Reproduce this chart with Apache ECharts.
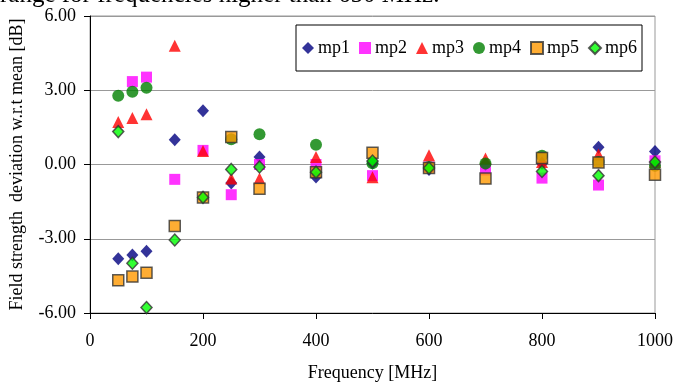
<!DOCTYPE html>
<html>
<head>
<meta charset="utf-8">
<script src="https://cdn.jsdelivr.net/npm/echarts@6/dist/echarts.min.js"></script>
<style>html,body{margin:0;padding:0;background:#fff}#c{width:676px;height:383px}</style>
</head>
<body>
<div id="c"></div>
<script>
var freqs = [50, 75, 100, 150, 200, 250, 300, 400, 500, 600, 700, 800, 900, 1000];
var mp1 = [-3.81, -3.66, -3.50, 1.00, 2.17, -0.75, 0.30, -0.50, 0.05, -0.20, 0.00, 0.05, 0.70, 0.53];
var mp2 = [null, 3.35, 3.53, -0.60, 0.57, -1.22, 0.00, 0.00, -0.45, -0.10, -0.22, -0.55, -0.83, 0.15];
var mp3 = [1.72, 1.88, 2.03, 4.80, 0.55, -0.57, -0.57, 0.30, -0.52, 0.37, 0.24, 0.10, 0.40, 0.10];
var mp4 = [2.78, 2.94, 3.10, null, null, 1.02, 1.22, 0.80, 0.05, -0.10, 0.04, 0.35, 0.10, -0.05];
var mp5 = [-4.68, -4.53, -4.37, -2.48, -1.33, 1.11, -0.98, -0.31, 0.47, -0.14, -0.57, 0.26, 0.08, -0.41];
var mp6 = [1.33, -3.99, -5.78, -3.05, -1.33, -0.20, -0.10, -0.31, 0.14, -0.14, null, -0.28, -0.45, 0.10];
var seriesNames = ['mp1', 'mp2', 'mp3', 'mp4', 'mp5', 'mp6'];
var yTicks = [-6, -3, 0, 3, 6];

function pairs(vals) {
  var out = [];
  for (var i = 0; i < freqs.length; i++) {
    if (vals[i] !== null) out.push([freqs[i], vals[i]]);
  }
  return out;
}

var font = 'Liberation Serif';
var chart = echarts.init(document.getElementById('c'), null, {renderer: 'canvas'});
var styles = [
  {symbol: 'diamond', size: [12, 13], item: {color: '#000080'}},
  {symbol: 'rect', size: 11, item: {color: '#ff00ff'}},
  {symbol: 'triangle', size: [12, 12], item: {color: '#ff0000'}},
  {symbol: 'circle', size: 12, item: {color: '#008000'}},
  {symbol: 'rect', size: 11, item: {color: '#ff9900', borderColor: '#333333', borderWidth: 1.5}},
  {symbol: 'diamond', size: [11, 12], item: {color: '#00ff00', borderColor: '#333333', borderWidth: 1.5}}
];
var allData = [mp1, mp2, mp3, mp4, mp5, mp6];

chart.setOption({
  animation: false,
  backgroundColor: '#ffffff',
  textStyle: {fontFamily: font},
  graphic: [{
    type: 'text', left: 0, top: -17,
    style: {text: 'range for frequencies higher than 650 MHz.', font: '25px "Liberation Serif"', fill: '#000'}
  }],
  grid: {left: 90, right: 21, top: 16, bottom: 70, show: true, borderColor: '#999999', borderWidth: 1,
    containLabel: false, outerBoundsMode: 'none'},
  legend: {
    left: 296, top: 25, width: 347,
    padding: [14, 5, 14, 6],
    borderColor: '#000', borderWidth: 1, backgroundColor: '#fff',
    itemWidth: 12, itemHeight: 12, itemGap: 9,
    textStyle: {fontFamily: font, fontSize: 18, color: '#000', padding: [0, 0, 0, -1]},
    data: seriesNames
  },
  xAxis: {
    type: 'value', min: 0, max: 1000, interval: 200,
    name: 'Frequency [MHz]', nameLocation: 'middle', nameGap: 51,
    nameTextStyle: {fontFamily: font, fontSize: 18, color: '#000'},
    axisLine: {onZero: false, lineStyle: {color: '#000', width: 1}},
    axisTick: {show: true, length: 6, inside: false, lineStyle: {color: '#000'}},
    axisLabel: {fontFamily: font, fontSize: 18, color: '#000', margin: 19,
      formatter: function (v) { return String(v); }},
    splitLine: {show: false}
  },
  yAxis: {
    type: 'value', min: yTicks[0], max: yTicks[yTicks.length - 1], interval: 3,
    name: 'Field strength  deviation w.r.t mean [dB]', nameLocation: 'middle', nameGap: 64,
    nameTextStyle: {fontFamily: font, fontSize: 18, color: '#000'},
    axisLine: {show: true, lineStyle: {color: '#000', width: 1}},
    axisTick: {show: true, length: 6, inside: false, lineStyle: {color: '#000'}},
    axisLabel: {fontFamily: font, fontSize: 18, color: '#000', margin: 14,
      formatter: function (v) { return v.toFixed(2); }},
    splitLine: {show: true, lineStyle: {color: '#999999', width: 1}}
  },
  series: seriesNames.map(function (n, i) {
    return {
      name: n, type: 'scatter', data: pairs(allData[i]),
      symbol: styles[i].symbol, symbolSize: styles[i].size,
      itemStyle: styles[i].item, z: 2 + i
    };
  })
});
</script>
</body>
</html>
